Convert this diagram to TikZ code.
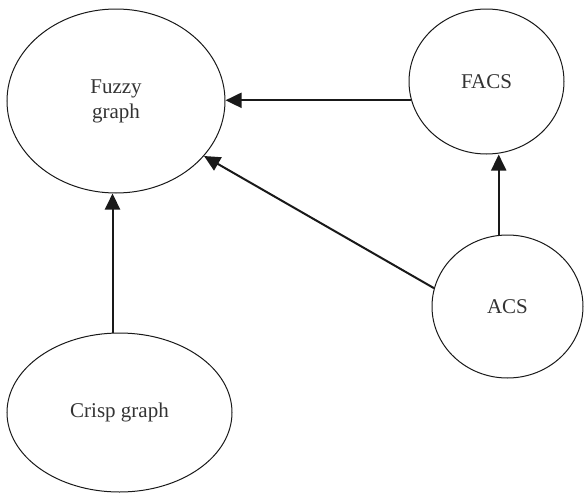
\documentclass[tikz,border=0pt]{standalone}
\usepackage{fontspec}
\setmainfont{Liberation Serif}
\usetikzlibrary{shapes.geometric,arrows.meta}
\begin{document}
\begin{tikzpicture}[x=1pt,y=-1pt,
  ell/.style={draw=black!90,line width=1pt,ellipse,inner sep=0pt,
    text=black!80,font=\fontsize{21}{25}\selectfont,align=center},
  arr/.style={draw=black!90,line width=2pt,-{Triangle[length=16pt,width=15pt]}}]
\useasboundingbox (0,0) rectangle (584,493);
\node[ell,minimum width=218pt,minimum height=184pt] (fuzzy) at (116,101) {Fuzzy\\graph};
\node[ell,minimum width=155pt,minimum height=145pt] (facs) at (486.5,81.5) {FACS};
\node[ell,minimum width=151pt,minimum height=143pt] (acs) at (507.5,306.5) {ACS};
\node[ell,minimum width=225pt,minimum height=159pt] (crisp) at (119.5,412.5) {Crisp graph};
\draw[arr] (facs.194.6) -- (facs.194.6 -| fuzzy.east);
\draw[arr] (acs.97.2) -- (acs.97.2 |- facs.south);
\draw[arr] (acs.166.6) -- (fuzzy.328.5);
\draw[arr] (crisp.95.4) -- (crisp.95.4 |- fuzzy.south);
\end{tikzpicture}
\end{document}
